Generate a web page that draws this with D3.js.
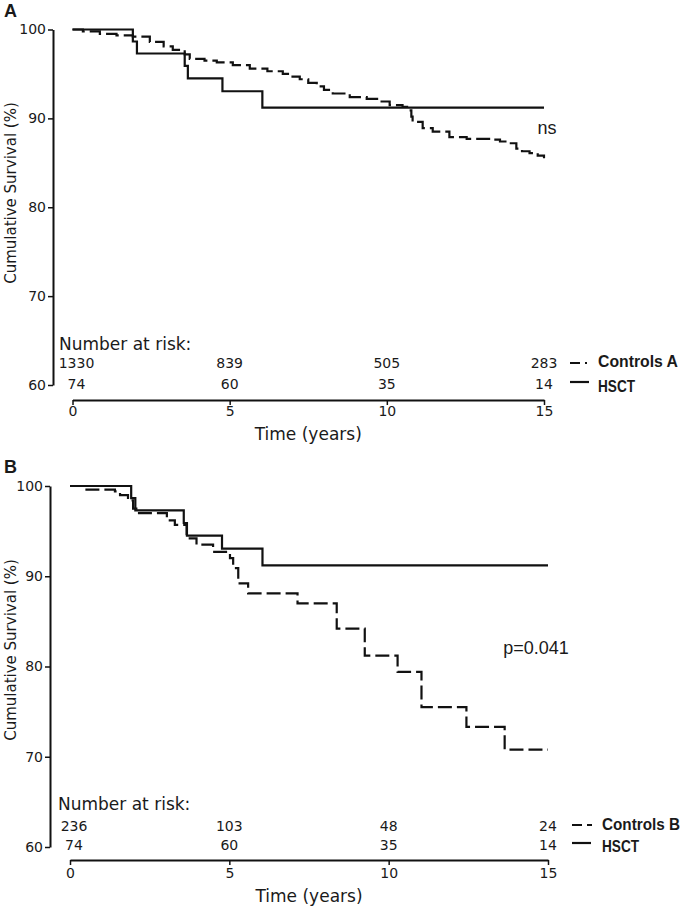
<!DOCTYPE html>
<html>
<head>
<meta charset="utf-8">
<script src="https://cdn.jsdelivr.net/npm/d3@7"></script>
<style>
  html, body { margin: 0; padding: 0; background: #fff; }
  svg { display: block; }
  text { fill: #1a1a1a; }
</style>
</head>
<body>
<svg id="chart" width="685" height="908"></svg>
<script>
// ---------------- data ----------------
const yTicks = [60, 70, 80, 90, 100];
const xTicks = [0, 5, 10, 15];
const riskTimes = [0, 5, 10, 15];

// HSCT (same cohort in both panels): [time (years), survival %]
const hsct = [[0,100],[1.92,98.65],[2.05,97.3],[3.57,95.9],[3.67,94.5],[4.77,93.05],[6.04,91.2]];

// Controls A
const controlsA = [[0,100],[0.33,99.8],[0.87,99.5],[1.4,99.35],[1.92,99.2],[2.46,98.6],[2.9,98.1],[3.19,97.7],
  [3.57,97.2],[3.73,96.7],[4.2,96.5],[4.59,96.3],[5.1,96.0],[5.64,95.6],[6.2,95.3],[6.69,95.0],[7.0,94.7],
  [7.23,94.4],[7.5,94.0],[7.77,93.6],[8.0,93.2],[8.28,92.8],[8.82,92.4],[9.36,92.2],[9.77,91.9],[10.09,91.5],
  [10.5,91.3],[10.72,90.9],[10.78,90.2],[10.82,89.6],[11.14,88.9],[11.46,88.5],[11.99,87.9],[12.54,87.7],
  [13.36,87.6],[13.6,87.4],[13.81,87.2],[14.12,86.6],[14.3,86.3],[14.54,86.1],[14.8,85.8],[15.0,85.5]];

// Controls B
const controlsB = [[0,100],[0.47,99.6],[1.41,99.4],[1.57,99.0],[1.82,98.4],[1.98,97.5],[2.13,97.0],[3.04,96.2],
  [3.29,95.7],[3.66,94.2],[3.97,93.5],[4.49,92.7],[5.02,92.0],[5.12,90.9],[5.28,89.2],[5.59,88.1],[7.14,87.0],
  [8.37,84.2],[9.25,81.2],[10.28,79.4],[11.03,75.5],[12.44,73.3],[13.64,70.8]];

const riskA_controls = [1330, 839, 505, 283];
const riskA_hsct = [74, 60, 35, 14];
const riskB_controls = [236, 103, 48, 24];
const riskB_hsct = [74, 60, 35, 14];

const endTime = 15;

// ---------------- drawing ----------------
const svg = d3.select("#chart");
const sans = "'DejaVu Sans', Verdana, sans-serif";
const arial = "'Liberation Sans', Arial, sans-serif";

function panel(cfg) {
  const g = svg.append("g");
  const x = d3.scaleLinear().domain([0, 15]).range(cfg.xRange);
  const y = d3.scaleLinear().domain([60, 100]).range(cfg.yRange);

  // panel letter
  g.append("text").attr("x", 4).attr("y", cfg.letterY)
    .style("font-family", arial).style("font-weight", "bold").style("font-size", "18px")
    .text(cfg.letter);

  // y axis
  const ya = g.append("g").attr("transform", `translate(${cfg.yAxisX},0)`)
    .call(d3.axisLeft(y).tickValues(yTicks).tickSize(5).tickPadding(2).tickSizeOuter(0));
  ya.select(".domain").attr("stroke", "#111").attr("stroke-width", 2);
  ya.selectAll(".tick line").attr("stroke", "#111").attr("stroke-width", 1.5);
  ya.selectAll(".tick text").style("font-family", sans).style("font-size", "14px").attr("fill", "#1a1a1a");

  // x axis
  const xa = g.append("g").attr("transform", `translate(0,${cfg.xAxisY})`)
    .call(d3.axisBottom(x).tickValues(xTicks).tickSize(5).tickPadding(cfg.xPad).tickSizeOuter(0));
  xa.select(".domain").attr("stroke", "#111").attr("stroke-width", 2);
  xa.selectAll(".tick line").attr("stroke", "#111").attr("stroke-width", 1.5);
  xa.selectAll(".tick text").style("font-family", sans).style("font-size", "14px").attr("fill", "#1a1a1a");

  // axis titles
  g.append("text")
    .attr("transform", `translate(16,${cfg.yTitleY}) rotate(-90)`)
    .attr("text-anchor", "middle")
    .style("font-family", sans).style("font-size", "15px")
    .text("Cumulative Survival (%)");
  g.append("text").attr("x", (cfg.xRange[0] + cfg.xRange[1]) / 2).attr("y", cfg.xTitleY)
    .attr("text-anchor", "middle")
    .style("font-family", sans).style("font-size", "17px")
    .text("Time (years)");

  // curves
  const line = d3.line().x(d => x(d[0])).y(d => y(d[1])).curve(d3.curveStepAfter);
  function extend(arr) {
    const last = arr[arr.length - 1];
    return last[0] < endTime ? arr.concat([[endTime, last[1]]]) : arr;
  }
  g.append("path").datum(extend(cfg.controls)).attr("d", line)
    .attr("fill", "none").attr("stroke", "#111").attr("stroke-width", 2.2)
    .attr("stroke-dasharray", "14,5");
  g.append("path").datum(extend(hsct)).attr("d", line)
    .attr("fill", "none").attr("stroke", "#111").attr("stroke-width", 2.2);

  // annotation
  g.append("text").attr("x", cfg.noteX).attr("y", cfg.noteY)
    .attr("text-anchor", "middle")
    .style("font-family", arial).style("font-size", "18px")
    .text(cfg.note);

  // number at risk
  g.append("text").attr("x", cfg.riskX).attr("y", cfg.riskHeadY)
    .style("font-family", sans).style("font-size", "17px")
    .text("Number at risk:");
  const rowStyle = (sel) => sel.style("font-family", sans).style("font-size", "14px").attr("text-anchor", "middle");
  g.selectAll(".r1").data(cfg.risk1).join("text").attr("class", "r1")
    .attr("x", (d, i) => x(riskTimes[i]) + (i === 0 ? 4 : 0)).attr("y", cfg.row1Y)
    .call(rowStyle).text(d => d);
  g.selectAll(".r2").data(cfg.risk2).join("text").attr("class", "r2")
    .attr("x", (d, i) => x(riskTimes[i]) + (i === 0 ? 4 : 0)).attr("y", cfg.row2Y)
    .call(rowStyle).text(d => d);

  // legend
  g.append("line").attr("x1", cfg.legX).attr("x2", cfg.legX + 20)
    .attr("y1", cfg.leg1LineY).attr("y2", cfg.leg1LineY)
    .attr("stroke", "#111").attr("stroke-width", 2.2).attr("stroke-dasharray", cfg.legDash);
  g.append("text").attr("x", cfg.legTextX).attr("y", cfg.leg1TextY)
    .style("font-family", arial).style("font-weight", "bold").style("font-size", "16px")
    .attr("textLength", cfg.legLen).attr("lengthAdjust", "spacingAndGlyphs")
    .text(cfg.controlsLabel);
  g.append("line").attr("x1", cfg.legX).attr("x2", cfg.legX + 19)
    .attr("y1", cfg.leg2LineY).attr("y2", cfg.leg2LineY)
    .attr("stroke", "#111").attr("stroke-width", 2.2);
  g.append("text").attr("x", cfg.legTextX).attr("y", cfg.leg2TextY)
    .style("font-family", arial).style("font-weight", "bold").style("font-size", "16px")
    .attr("textLength", 37).attr("lengthAdjust", "spacingAndGlyphs")
    .text("HSCT");
}

panel({
  letter: "A", letterY: 17,
  xRange: [72.5, 544], yRange: [385, 29.5],
  yAxisX: 53, xAxisY: 400, xPad: 1,
  yTitleY: 193, xTitleY: 440,
  controls: controlsA,
  note: "ns", noteX: 547, noteY: 134,
  riskX: 59, riskHeadY: 350, row1Y: 368, row2Y: 389,
  risk1: riskA_controls, risk2: riskA_hsct,
  legX: 570, legTextX: 598, legDash: "10,5,2,10", legLen: 80,
  leg1LineY: 363, leg1TextY: 367, leg2LineY: 382, leg2TextY: 392,
  controlsLabel: "Controls A"
});

panel({
  letter: "B", letterY: 473,
  xRange: [70, 548], yRange: [847, 486],
  yAxisX: 50, xAxisY: 860, xPad: 3,
  yTitleY: 650, xTitleY: 902,
  controls: controlsB,
  note: "p=0.041", noteX: 536, noteY: 654,
  riskX: 58, riskHeadY: 810, row1Y: 831, row2Y: 850,
  risk1: riskB_controls, risk2: riskB_hsct,
  legX: 572, legTextX: 602, legDash: "10,5,6,10", legLen: 78,
  leg1LineY: 825, leg1TextY: 830, leg2LineY: 843, leg2TextY: 852,
  controlsLabel: "Controls B"
});
</script>
</body>
</html>
